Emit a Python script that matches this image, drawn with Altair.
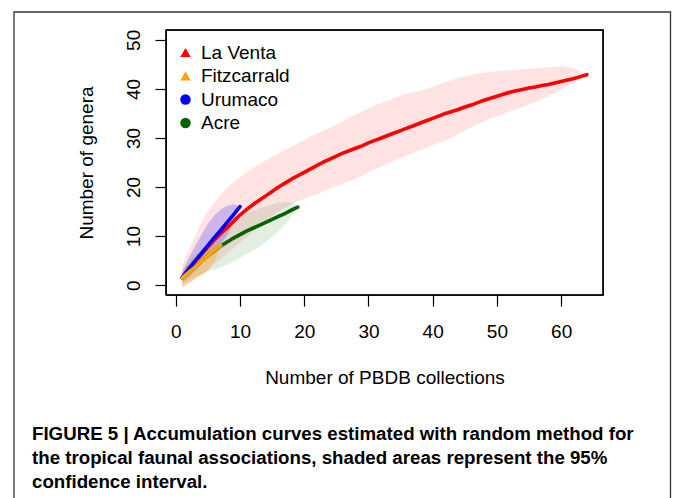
import altair as alt
import pandas as pd

FONT = "Liberation Sans"

series_names = ["La Venta", "Fitzcarrald", "Urumaco", "Acre"]
series_colors = ["#FF0000", "#FFA500", "#0000FF", "#006400"]
series_shapes = ["triangle-up", "triangle-up", "circle", "circle"]
series_sizes = [110, 110, 50, 50]

# La Venta (1..64 collections)
laventa_x = list(range(1, 65))
laventa_mean = [1.6, 3.2, 4.8, 6.3, 7.8, 9.2, 10.5, 11.7, 13.0, 14.3,
                15.4, 16.4, 17.3, 18.2, 19.1, 20.0, 20.8, 21.6, 22.3, 23.0,
                23.7, 24.4, 25.1, 25.7, 26.3, 26.9, 27.4, 27.9, 28.4, 29.0,
                29.5, 30.0, 30.5, 31.0, 31.5, 32.0, 32.5, 33.0, 33.5, 34.0,
                34.5, 35.0, 35.4, 35.8, 36.3, 36.7, 37.2, 37.7, 38.1, 38.5,
                38.9, 39.3, 39.6, 39.9, 40.2, 40.4, 40.7, 40.9, 41.2, 41.5,
                41.8, 42.1, 42.5, 42.9]
laventa_hi = [4.0, 7.0, 10.0, 12.8, 15.0, 16.8, 18.5, 19.8, 21.0, 22.0,
              23.0, 23.9, 24.7, 25.4, 26.1, 26.8, 27.5, 28.2, 28.9, 29.6,
              30.3, 30.9, 31.5, 32.1, 32.7, 33.4, 34.1, 34.8, 35.4, 36.0,
              36.6, 37.1, 37.6, 38.1, 38.6, 39.0, 39.3, 39.6, 40.0, 40.4,
              40.9, 41.4, 41.8, 42.2, 42.5, 42.8, 43.1, 43.3, 43.5, 43.6,
              43.7, 43.8, 43.9, 44.0, 44.1, 44.2, 44.3, 44.4, 44.5, 44.6,
              44.5, 44.1, 43.6, 42.9]
laventa_lo = [-0.5, 0.3, 1.2, 2.2, 3.2, 4.3, 5.4, 6.5, 7.6, 8.7,
              9.8, 10.9, 12.0, 13.1, 14.1, 15.0, 15.8, 16.5, 17.1, 17.6,
              18.1, 18.6, 19.1, 19.7, 20.2, 20.7, 21.2, 21.7, 22.3, 23.0,
              23.6, 24.2, 24.8, 25.3, 25.9, 26.5, 27.0, 27.5, 28.0, 28.5,
              29.0, 29.5, 30.1, 30.8, 31.5, 32.2, 32.8, 33.4, 33.9, 34.4,
              34.9, 35.4, 35.8, 36.3, 36.8, 37.3, 37.9, 38.5, 39.1, 39.8,
              40.6, 41.4, 42.2, 42.9]

# Fitzcarrald (1..7)
fitz_x = list(range(1, 8))
fitz_mean = [1.5, 2.6, 3.7, 4.9, 6.0, 7.1, 8.1]
fitz_hi = [2.5, 4.5, 6.0, 7.3, 8.2, 8.6, 8.1]
fitz_lo = [-0.3, 0.5, 1.3, 2.0, 3.0, 4.8, 8.1]

# Urumaco (1..10)
uru_x = list(range(1, 11))
uru_mean = [1.6, 3.3, 4.9, 6.5, 8.1, 9.7, 11.2, 12.8, 14.4, 16.0]
uru_hi = [2.8, 5.5, 8.0, 10.3, 12.5, 14.2, 15.4, 16.2, 16.5, 16.0]
uru_lo = [0.6, 1.6, 2.9, 4.3, 5.6, 7.0, 8.4, 10.2, 12.6, 16.0]

# Acre (1..19)
acre_x = list(range(1, 20))
acre_mean = [1.5, 2.6, 3.7, 4.9, 6.0, 7.0, 8.0, 8.8, 9.6, 10.3,
             11.0, 11.6, 12.2, 12.8, 13.4, 14.0, 14.6, 15.3, 15.9]
acre_hi = [2.5, 4.5, 6.0, 7.2, 8.2, 9.0, 9.8, 11.0, 12.3, 13.6,
           14.5, 15.2, 15.7, 16.1, 16.5, 16.8, 17.0, 16.9, 15.9]
acre_lo = [0.3, 1.0, 1.6, 2.2, 2.8, 3.2, 3.6, 4.2, 4.9, 5.6,
           6.3, 7.0, 7.8, 8.8, 9.8, 11.0, 12.3, 14.0, 15.9]

x_ticks = [0, 10, 20, 30, 40, 50, 60]
y_ticks = [0, 10, 20, 30, 40, 50]
x_domain = [-1.52, 66.52]
y_domain = [-2, 52]

caption_lines = [
    "FIGURE 5 | Accumulation curves estimated with random method for",
    "the tropical faunal associations, shaded areas represent the 95%",
    "confidence interval.",
]

PLOT_W = 437
PLOT_H = 265


def make_df(xs, mean, lo, hi):
    return pd.DataFrame({"x": xs, "y": mean, "lo": lo, "hi": hi})


df_lv = make_df(laventa_x, laventa_mean, laventa_lo, laventa_hi)
df_fz = make_df(fitz_x, fitz_mean, fitz_lo, fitz_hi)
df_ur = make_df(uru_x, uru_mean, uru_lo, uru_hi)
df_ac = make_df(acre_x, acre_mean, acre_lo, acre_hi)

x_scale = alt.Scale(domain=x_domain, nice=False, zero=False)
y_scale = alt.Scale(domain=y_domain, nice=False, zero=False)

x_axis = alt.Axis(values=x_ticks, domain=False, grid=False, tickSize=11, tickColor="black",
                  tickWidth=1.2, labelFontSize=19, labelColor="black", labelFont=FONT,
                  labelBaseline="top", labelPadding=16, labelFlush=False, labelOverlap=False,
                  titleFontSize=19, titleFont=FONT, titleFontWeight="normal", titleColor="black",
                  titleY=88.3, titleBaseline="alphabetic")
y_axis = alt.Axis(values=y_ticks, domain=False, grid=False, tickSize=11, tickColor="black",
                  tickWidth=1.2, labelFontSize=19, labelColor="black", labelFont=FONT,
                  labelAngle=270, labelAlign="center", labelBaseline="alphabetic",
                  labelPadding=15.5, labelFlush=False, labelOverlap=False,
                  titleFontSize=19, titleFont=FONT, titleFontWeight="normal", titleColor="black",
                  titleAngle=270, titleX=-74, titleY=132.5, titleAlign="center",
                  titleBaseline="alphabetic")

X_TITLE = "Number of PBDB collections"
Y_TITLE = "Number of genera"


def band(df, color, opacity):
    return alt.Chart(df).mark_area(color=color, opacity=opacity).encode(
        x=alt.X("x:Q", scale=x_scale, axis=x_axis, title=X_TITLE),
        y=alt.Y("lo:Q", scale=y_scale, axis=y_axis, title=Y_TITLE),
        y2="hi:Q",
    )


def line(df, color):
    return alt.Chart(df).mark_line(color=color, strokeWidth=3.6, strokeCap="round",
                                   strokeJoin="round").encode(
        x=alt.X("x:Q", scale=x_scale, axis=x_axis, title=X_TITLE),
        y=alt.Y("y:Q", scale=y_scale, axis=y_axis, title=Y_TITLE),
    )


# plot box drawn as a closed path through the corners of the scale domains
box_df = pd.DataFrame({
    "x": [x_domain[0], x_domain[1], x_domain[1], x_domain[0], x_domain[0]],
    "y": [y_domain[0], y_domain[0], y_domain[1], y_domain[1], y_domain[0]],
    "o": [0, 1, 2, 3, 4],
})
box_layer = alt.Chart(box_df).mark_line(color="black", strokeWidth=1.4, strokeJoin="miter").encode(
    x=alt.X("x:Q", scale=x_scale, axis=x_axis, title=X_TITLE),
    y=alt.Y("y:Q", scale=y_scale, axis=y_axis, title=Y_TITLE),
    order="o:Q",
)

legend_df = pd.DataFrame({"series": series_names})
leg = alt.Legend(orient="none", legendX=10, legendY=13, title=None, padding=0,
                 labelFontSize=19, labelFont=FONT, labelColor="black", labelOffset=6,
                 rowPadding=3.5, symbolStrokeWidth=0)
legend_layer = alt.Chart(legend_df).mark_point(filled=True, opacity=1).encode(
    color=alt.Color("series:N", scale=alt.Scale(domain=series_names, range=series_colors), legend=leg),
    shape=alt.Shape("series:N", scale=alt.Scale(domain=series_names, range=series_shapes), legend=leg),
    size=alt.Size("series:N", scale=alt.Scale(domain=series_names, range=series_sizes), legend=leg),
).transform_filter("false")

caption_df = pd.DataFrame({"caption": ["\n".join(caption_lines)]})
caption_layer = alt.Chart(caption_df).mark_text(
    align="left", baseline="alphabetic", fontSize=18.7, fontWeight="bold", font=FONT,
    lineHeight=24.2, lineBreak="\n", color="black"
).encode(x=alt.value(-134), y=alt.value(410), text="caption:N")

# outer figure frame (decoration)
frame_df = pd.DataFrame({"frame": ["outer"]})
frame_layer = alt.Chart(frame_df).mark_rect(
    fill="transparent", stroke="#333333", strokeWidth=1.3
).encode(x=alt.value(-152), x2=alt.value(504.5), y=alt.value(-18), y2=alt.value(485))

chart = alt.layer(
    band(df_lv, "#FF0000", 0.11),
    band(df_ac, "#006400", 0.11),
    band(df_ur, "#0000FF", 0.2),
    band(df_fz, "#FFA500", 0.3),
    line(df_lv, "#FF0000"),
    line(df_ac, "#006400"),
    line(df_ur, "#0000FF"),
    line(df_fz, "#FFA500"),
    box_layer,
    legend_layer,
    caption_layer,
    frame_layer,
).properties(
    width=PLOT_W, height=PLOT_H,
    padding={"left": 166, "top": 30, "right": 70, "bottom": 203},
    autosize=alt.AutoSizeParams(type="none"),
).configure(
    background="white",
    view=alt.ViewConfig(stroke="black", strokeWidth=1.3),
)

chart.save("out.html", embed_options={"renderer": "svg", "actions": False})
